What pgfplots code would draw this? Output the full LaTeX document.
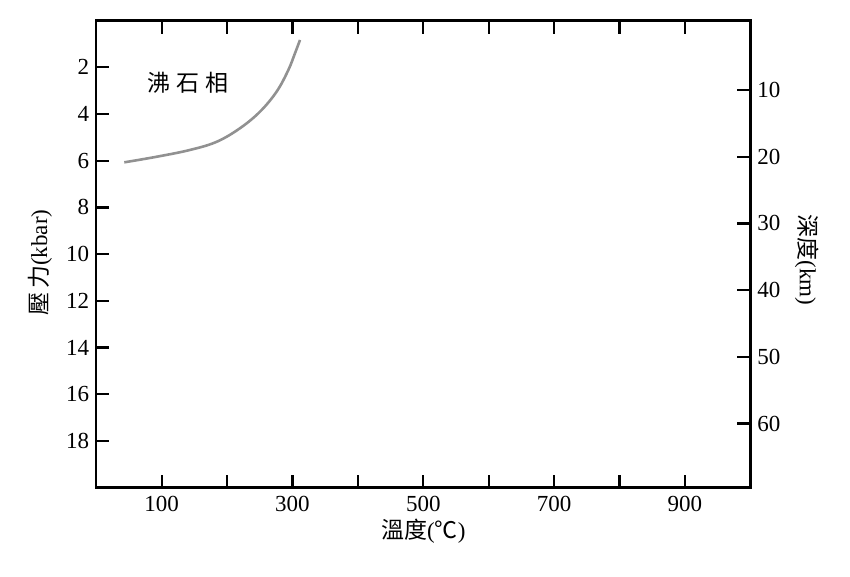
\documentclass[border=0pt]{standalone}
\usepackage{fontspec}
\setmainfont{Liberation Serif}
\newfontfamily\cjk{Noto Sans CJK TC}
\usepackage{pgfplots}
\pgfplotsset{compat=1.18}
\definecolor{curve}{RGB}{145,145,145}
\begin{document}
\begin{tikzpicture}
\begin{axis}[
  name=main, scale only axis, width=327pt, height=233.5pt,
  xmin=0, xmax=1000, ymin=0, ymax=20, y dir=reverse,
  xtick={100,200,...,900}, xticklabels={100,,300,,500,,700,,900},
  ytick={2,4,...,18},
  xtick pos=both, ytick pos=left,
  tick align=inside, major tick length=6.5pt,
  axis line style={line width=1.2pt, black},
  tick style={line width=1.1pt, black},
  /pgf/number format/assume math mode=true,
  tick label style={font=\fontsize{11.5}{13}\selectfont},
  xticklabel style={yshift=-1pt},
  xlabel={{\cjk 溫度}(\raisebox{0pt}{\cjk ℃})},
  xlabel style={at={(axis description cs:0.5,-0.0944)}, anchor=center, font=\fontsize{11.5}{13}\selectfont},
  ylabel={{\cjk 壓\,力}(kbar)},
  ylabel style={at={(axis description cs:-0.0861,0.482)}, anchor=center, rotate=0, font=\fontsize{11.5}{13}\selectfont},
  clip=false,
]
\addplot[color=curve, line width=1.3pt, smooth, tension=0.6] coordinates {
  (42.8,6.07) (92.4,5.83) (143.3,5.54) (184.1,5.19) (219.7,4.61)
  (250.3,3.90) (275.8,3.04) (293.6,2.12) (303.8,1.40) (311.5,0.83)
};
\node[font=\cjk\fontsize{11.5}{13}\selectfont] at (axis cs:140.5,2.66) {沸\hspace{0.25em}石\hspace{0.25em}相};
\coordinate (bb1) at (axis description cs:-0.1472,-0.1893);
\coordinate (bb2) at (axis description cs:1.1524,1.0441);
\end{axis}
\begin{axis}[
  scale only axis, width=327pt, height=233.5pt,
  xmin=0, xmax=1000, ymin=-0.4, ymax=69.6, y dir=reverse,
  axis x line=none, axis y line*=right,
  ytick={10,20,...,60},
  tick align=inside, major tick length=6.5pt,
  axis line style={line width=1.2pt, black, -},
  tick style={line width=1.1pt, black},
  /pgf/number format/assume math mode=true,
  tick label style={font=\fontsize{11.5}{13}\selectfont},
  yticklabel style={xshift=0pt},
  ylabel={{\cjk 深度}(km)},
  ylabel style={at={(axis description cs:1.0867,0.487)}, anchor=center, rotate=180, font=\fontsize{11.5}{13}\selectfont},
]
\addplot[draw=none] coordinates {(0,0)};
\end{axis}
\path (bb1) rectangle (bb2);
\end{tikzpicture}
\end{document}
